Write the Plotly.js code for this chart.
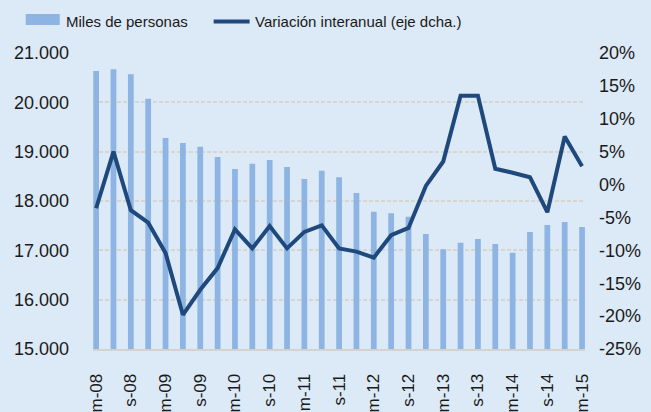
<!DOCTYPE html>
<html><head><meta charset="utf-8">
<script src="https://cdn.plot.ly/plotly-3.0.1.min.js"></script>
<style>html,body{margin:0;padding:0;background:#dce9f6;} #chart{width:651px;height:412px;}</style>
</head><body><div id="chart"></div>
<script>
const quarters = ['m-08','j-08','s-08','d-08','m-09','j-09','s-09','d-09','m-10','j-10','s-10','d-10',
  'm-11','j-11','s-11','d-11','m-12','j-12','s-12','d-12','m-13','j-13','s-13','d-13',
  'm-14','j-14','s-14','d-14','m-15'];
const personas = [20636, 20670, 20570, 20075, 19277, 19176, 19100, 18892, 18649, 18756, 18831, 18689,
  18446, 18615, 18480, 18162, 17783, 17751, 17680, 17331, 17021, 17155, 17230, 17128,
  16952, 17372, 17514, 17575, 17473];
const variacion = [-3.6, 5.0, -3.9, -5.8, -10.4, -19.8, -16.0, -12.7, -6.8, -9.7, -6.3, -9.7,
  -7.2, -6.2, -9.7, -10.2, -11.1, -7.7, -6.6, -0.2, 3.5, 13.5, 13.5, 2.4,
  1.8, 1.1, -4.2, 7.3, 2.8];
const xTickLabels = ['m-08','s-08','m-09','s-09','m-10','s-10','m-11','s-11','m-12','s-12','m-13','s-13','m-14','s-14','m-15'];
const leftTickVals = [15000,16000,17000,18000,19000,20000,21000];
const leftTickText = ['15.000','16.000','17.000','18.000','19.000','20.000','21.000'];
const rightTickVals = [-25,-20,-15,-10,-5,0,5,10,15,20];
const rightTickText = ['-25%','-20%','-15%','-10%','-5%','0%','5%','10%','15%','20%'];
const seriesNames = ['Miles de personas','Variación interanual (eje dcha.)'];

const FONT = '"Liberation Sans", Arial, Helvetica, sans-serif';
const BG = '#dce9f6';
const BAR = '#8db4e2';
const LINE = '#1f497d';

const L = 93.3, R = 585.5, T = 53, B = 349;
const px = x => (x - L) / (R - L);
const py = y => (B - y) / (B - T);

const traces = [
  {type:'bar', x: quarters, y: personas, name: seriesNames[0], marker:{color: BAR}, width: 0.33,
   showlegend:false, hoverinfo:'skip'},
  {type:'scatter', mode:'lines', x: quarters, y: variacion, name: seriesNames[1], yaxis:'y2',
   line:{color: LINE, width: 4}, showlegend:false, hoverinfo:'skip'}
];

const layout = {
  width: 651, height: 412,
  margin: {l: 93, r: 66, t: 53, b: 63, pad: 0},
  paper_bgcolor: BG, plot_bgcolor: BG,
  font: {family: FONT, color: '#1a1a1a', size: 18},
  showlegend: false,
  xaxis: {type:'category', range:[-0.18, 28.17], tickvals: xTickLabels, ticktext: xTickLabels,
    tickangle: -90, showline: true, linecolor: '#d2d2d2', linewidth: 2, showgrid: false,
    ticks: '', ticklabelstandoff: 16, tickfont: {size: 17, family: FONT, color:'#1a1a1a'}, fixedrange:true},
  yaxis: {range:[15000, 21000], tickvals: leftTickVals, ticktext: leftTickText, showgrid: true,
    gridcolor: '#d8d4d0', griddash: '4px,2px', gridwidth: 2, zeroline: false, showline: false,
    ticks: '', ticklabelstandoff: 23, tickfont: {size: 18, family: FONT, color:'#1a1a1a'}},
  yaxis2: {overlaying:'y', side:'right', range:[-25, 20], tickvals: rightTickVals, ticktext: rightTickText,
    showgrid: false, zeroline: false, showline: false, ticks: '', ticklabelstandoff: 13,
    tickfont: {size: 18, family: FONT, color:'#1a1a1a'}},
  shapes: [
    {type:'rect', xref:'paper', yref:'paper', x0: px(26), x1: px(60), y0: py(25), y1: py(14),
     fillcolor: BAR, line:{width:0}},
    {type:'line', xref:'paper', yref:'paper', x0: px(214), x1: px(250), y0: py(21.5), y1: py(21.5),
     line:{color: LINE, width: 4}}
  ],
  annotations: [
    {xref:'paper', yref:'paper', x: px(64), y: py(21.5), xanchor:'left', yanchor:'middle', showarrow:false,
     text: seriesNames[0], font:{size:15, family: FONT, color:'#1a1a1a'}},
    {xref:'paper', yref:'paper', x: px(253), y: py(21.5), xanchor:'left', yanchor:'middle', showarrow:false,
     text: seriesNames[1], font:{size:15, family: FONT, color:'#1a1a1a'}}
  ]
};

Plotly.newPlot('chart', traces, layout, {staticPlot: true, displayModeBar: false});
</script></body></html>
